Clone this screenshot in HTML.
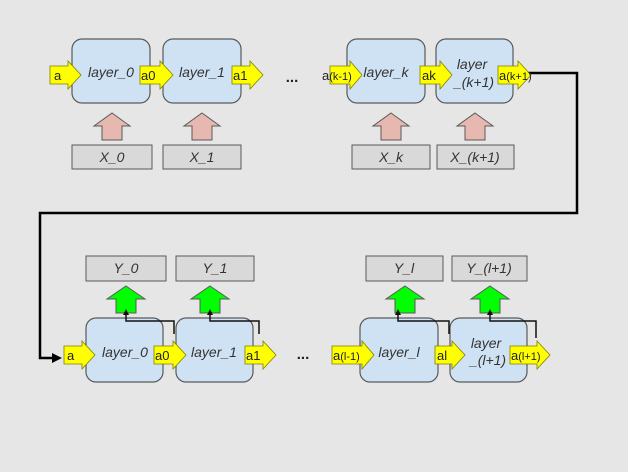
<!DOCTYPE html>
<html><head><meta charset="utf-8"><style>
html,body{margin:0;padding:0;background:#e6e6e6;}
svg{display:block;font-family:"Liberation Sans",sans-serif;}
.box{fill:#cfe2f3;stroke:#595959;stroke-width:1.2;}
.in{fill:#d9d9d9;stroke:#595959;stroke-width:1;}
.ya{fill:#ffff00;stroke:#7f7f00;stroke-width:0.8;}
.pa{fill:#e6b8af;stroke:#595959;stroke-width:1;}
.ga{fill:#00ff00;stroke:#595959;stroke-width:1;}
.t{font-size:14px;font-style:italic;fill:#333;text-anchor:middle;}
.yt{font-size:13px;fill:#222;}
</style></head><body>
<svg width="628" height="472" viewBox="0 0 628 472">
<rect width="628" height="472" fill="#e6e6e6"/>
<rect class="box" x="72" y="39" width="78" height="64" rx="10"/>
<rect class="box" x="163" y="39" width="78" height="64" rx="10"/>
<rect class="box" x="347" y="39" width="78" height="64" rx="10"/>
<rect class="box" x="436" y="39" width="77" height="64" rx="10"/>
<text class="t" x="111" y="77">layer_0</text>
<text class="t" x="202" y="77">layer_1</text>
<text class="t" x="386" y="77">layer_k</text>
<text class="t" x="472" y="69">layer</text>
<text class="t" x="474" y="87">_(k+1)</text>
<text x="292" y="82" font-size="15" font-weight="bold" fill="#222" text-anchor="middle">...</text>
<polyline points="528,73 577,73 577,213 40,213 40,358 56,358" fill="none" stroke="#000" stroke-width="2.5"/>
<polygon points="62,358 52,353 52,363" fill="#000"/>
<g>
<polygon class="ya" points="50,66 68,66 68,61 81,75 68,89 68,84 50,84"/><text class="yt" x="54" y="80">a</text>
<polygon class="ya" points="140,66 160,66 160,61 173,75 160,89 160,84 140,84"/><text class="yt" x="141" y="80">a0</text>
<polygon class="ya" points="232,66 250,66 250,61 263,75 250,89 250,84 232,84"/><text class="yt" x="233" y="80">a1</text>
<polygon class="ya" points="330,66 350,66 350,61 362,75 350,89 350,84 330,84"/><text class="yt" x="322" y="80">a<tspan font-size="11">(k-1)</tspan></text>
<polygon class="ya" points="420,66 440,66 440,61 452,75 440,89 440,84 420,84"/><text class="yt" x="422" y="80">ak</text>
<polygon class="ya" points="498,66 518,66 518,61 531,75 518,89 518,84 498,84"/><text class="yt" x="499" y="80">a<tspan font-size="11">(k+1)</tspan></text>
</g>
<polygon class="pa" points="112,113 130,126 122,126 122,140 102,140 102,126 94,126"/>
<polygon class="pa" points="202,113 220,126 212,126 212,140 192,140 192,126 184,126"/>
<polygon class="pa" points="391,113 409,126 401,126 401,140 381,140 381,126 373,126"/>
<polygon class="pa" points="475,113 493,126 485,126 485,140 465,140 465,126 457,126"/>
<rect class="in" x="72" y="145" width="80" height="24"/><text class="t" x="112" y="162">X_0</text>
<rect class="in" x="163" y="145" width="78" height="24"/><text class="t" x="202" y="162">X_1</text>
<rect class="in" x="352" y="145" width="78" height="24"/><text class="t" x="391" y="162">X_k</text>
<rect class="in" x="437" y="145" width="77" height="24"/><text class="t" x="475" y="162">X_(k+1)</text>
<rect class="in" x="86" y="256" width="80" height="25"/><text class="t" x="126" y="273">Y_0</text>
<rect class="in" x="176" y="256" width="78" height="25"/><text class="t" x="215" y="273">Y_1</text>
<rect class="in" x="366" y="256" width="77" height="25"/><text class="t" x="404" y="273">Y_l</text>
<rect class="in" x="452" y="256" width="75" height="25"/><text class="t" x="489" y="273">Y_(l+1)</text>
<polygon class="ga" points="126,286 145,299 136,299 136,313 116,313 116,299 107,299"/>
<polygon class="ga" points="210,286 229,299 220,299 220,313 200,313 200,299 191,299"/>
<polygon class="ga" points="405,286 424,299 415,299 415,313 395,313 395,299 386,299"/>
<polygon class="ga" points="490,286 509,299 500,299 500,313 480,313 480,299 471,299"/>
<rect class="box" x="86" y="318" width="77" height="64" rx="10"/>
<rect class="box" x="176" y="318" width="77" height="64" rx="10"/>
<rect class="box" x="360" y="318" width="78" height="64" rx="10"/>
<rect class="box" x="450" y="318" width="77" height="64" rx="10"/>
<text class="t" x="125" y="357">layer_0</text>
<text class="t" x="214" y="357">layer_1</text>
<text class="t" x="399" y="357">layer_l</text>
<text class="t" x="486" y="348">layer</text>
<text class="t" x="488" y="365">_(l+1)</text>
<text x="303" y="359" font-size="15" font-weight="bold" fill="#222" text-anchor="middle">...</text>
<g fill="none" stroke="#111" stroke-width="1.5">
<polyline points="174,334 174,321 126,321 126,313"/>
<polyline points="259,334 259,321 210,321 210,313"/>
<polyline points="449,334 449,321 398,321 398,313"/>
<polyline points="536,338 536,321 490,321 490,313"/>
</g>
<g fill="#111">
<polygon points="126,309 123,315 129,315"/><polygon points="210,309 207,315 213,315"/>
<polygon points="398,309 395,315 401,315"/><polygon points="490,309 487,315 493,315"/>
</g>
<polygon class="ya" points="64,346 82,346 82,341 95,355 82,369 82,364 64,364"/><text class="yt" x="67" y="360">a</text>
<polygon class="ya" points="154,346 173,346 173,341 186,355 173,369 173,364 154,364"/><text class="yt" x="155" y="360">a0</text>
<polygon class="ya" points="245,346 263,346 263,341 276,355 263,369 263,364 245,364"/><text class="yt" x="246" y="360">a1</text>
<polygon class="ya" points="332,346 362,346 362,341 374,355 362,369 362,364 332,364"/><text class="yt" x="333" y="360">a<tspan font-size="11">(l-1)</tspan></text>
<polygon class="ya" points="435,346 452,346 452,341 465,355 452,369 452,364 435,364"/><text class="yt" x="437" y="360">al</text>
<polygon class="ya" points="510,346 537,346 537,341 550,355 537,369 537,364 510,364"/><text class="yt" x="511" y="360">a<tspan font-size="11">(l+1)</tspan></text>
</svg>
</body></html>
